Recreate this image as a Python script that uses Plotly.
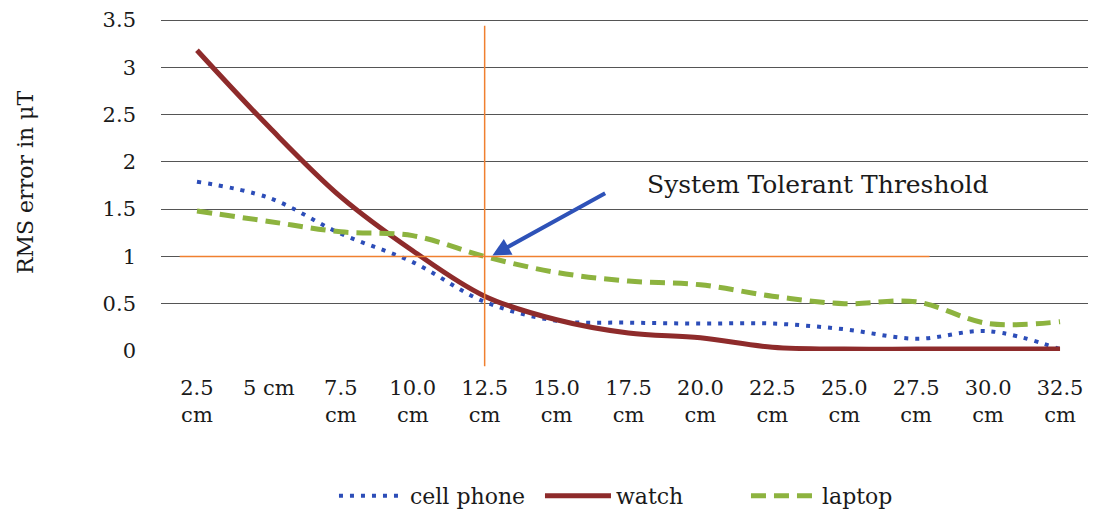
import plotly.graph_objects as go

categories = ["2.5 cm", "5 cm", "7.5 cm", "10.0 cm", "12.5 cm", "15.0 cm", "17.5 cm",
              "20.0 cm", "22.5 cm", "25.0 cm", "27.5 cm", "30.0 cm", "32.5 cm"]
tick_labels = ["2.5<br>cm", "5 cm", "7.5<br>cm", "10.0<br>cm", "12.5<br>cm", "15.0<br>cm",
               "17.5<br>cm", "20.0<br>cm", "22.5<br>cm", "25.0<br>cm", "27.5<br>cm",
               "30.0<br>cm", "32.5<br>cm"]
series_names = ["cell phone", "watch", "laptop"]
cell_phone = [1.79, 1.62, 1.24, 0.94, 0.52, 0.32, 0.30, 0.29, 0.29, 0.23, 0.13, 0.21, 0.02]
watch = [3.18, 2.37, 1.63, 1.06, 0.58, 0.33, 0.19, 0.14, 0.04, 0.02, 0.02, 0.02, 0.02]
laptop = [1.48, 1.37, 1.26, 1.22, 1.00, 0.83, 0.74, 0.70, 0.58, 0.50, 0.52, 0.29, 0.31]
y_ticks = [0, 0.5, 1, 1.5, 2, 2.5, 3, 3.5]
y_tick_text = ["0", "0.5", "1", "1.5", "2", "2.5", "3", "3.5"]
threshold_value = 1.0
threshold_category = "12.5 cm"
annotation_text = "System Tolerant Threshold"

FONT = "DejaVu Serif"
TXT = "#1a1a1a"

fig = go.Figure()
fig.add_trace(go.Scatter(x=categories, y=cell_phone, name=series_names[0], mode="lines",
                         line=dict(color="#2C4DB8", width=4, dash="4px,7px", shape="spline")))
fig.add_trace(go.Scatter(x=categories, y=watch, name=series_names[1], mode="lines",
                         line=dict(color="#8E2B2B", width=5, shape="spline")))
fig.add_trace(go.Scatter(x=categories, y=laptop, name=series_names[2], mode="lines",
                         line=dict(color="#8DB33F", width=5, dash="15px,8px", shape="spline")))

# threshold lines
fig.add_shape(type="line", xref="paper", yref="y", x0=0.02, x1=0.822,
              y0=threshold_value, y1=threshold_value,
              line=dict(color="#F08030", width=1.5), layer="above")
fig.add_shape(type="line", xref="x", yref="paper", x0=threshold_category, x1=threshold_category,
              y0=-0.045, y1=0.965, line=dict(color="#F08030", width=1.5), layer="above")

fig.add_annotation(x=threshold_category, y=threshold_value, xref="x", yref="y",
                   text="", showarrow=True, arrowhead=2, arrowsize=0.9, arrowwidth=4,
                   arrowcolor="#2E52B8", ax=116, ay=-64, standoff=2, xshift=6)
fig.add_annotation(xref="x", yref="y", x=threshold_category, y=threshold_value,
                   text=annotation_text, showarrow=False, xanchor="left", yanchor="middle",
                   xshift=160, yshift=72, font=dict(family=FONT, size=25, color=TXT))

fig.update_layout(
    width=1088, height=506,
    margin=dict(l=153, r=0, t=6, b=163, autoexpand=False),
    paper_bgcolor="white", plot_bgcolor="white",
    font=dict(family=FONT, size=21, color=TXT),
    showlegend=True,
    legend=dict(orientation="h", x=0.185, xanchor="left", y=-0.43, yanchor="middle",
                font=dict(family=FONT, size=22, color=TXT), itemwidth=66,
                entrywidth=125, entrywidthmode="pixels", traceorder="normal"),
    xaxis=dict(type="category", categoryorder="array", categoryarray=categories,
               tickvals=categories, ticktext=tick_labels, range=[-0.5, 12.5],
               showgrid=False, showline=False, zeroline=False, ticks="",
               ticklabelstandoff=22, tickfont=dict(family=FONT, size=21, color=TXT)),
    yaxis=dict(range=[0, 3.5634], tickvals=y_ticks, ticktext=y_tick_text,
               showgrid=True, gridcolor="#555", gridwidth=1.3, zeroline=False,
               showline=False, ticks="", ticklabelstandoff=24, ticklabeloverflow="allow",
               tickfont=dict(family=FONT, size=21, color=TXT),
               title=dict(text="RMS error in μT", standoff=62,
                          font=dict(family=FONT, size=22, color=TXT))),
)

fig.write_html("out.html")
